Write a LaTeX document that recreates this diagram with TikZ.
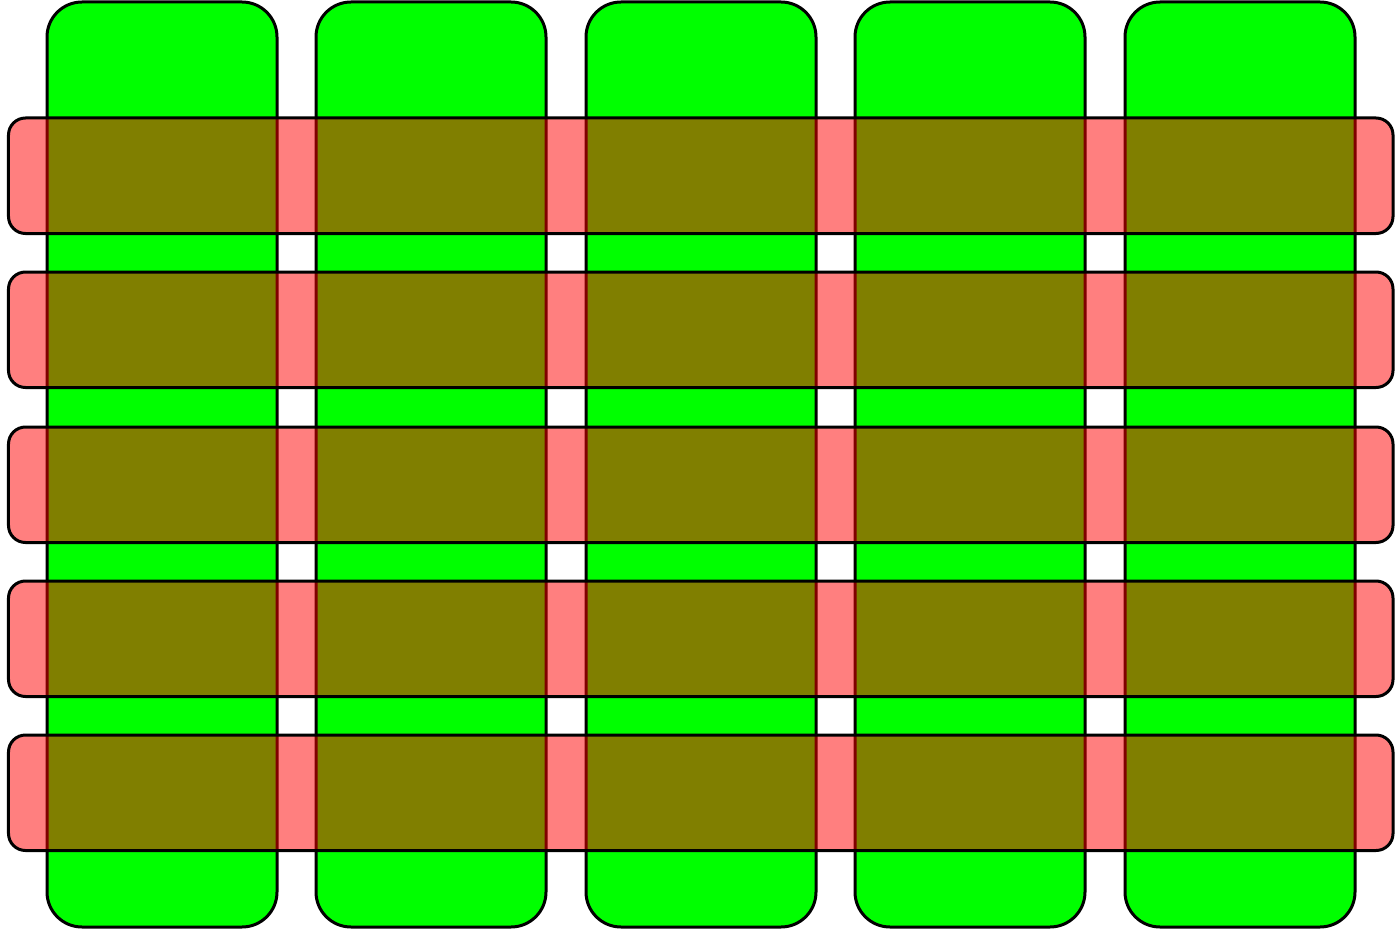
\documentclass[tikz,border=0pt]{standalone}
\begin{document}
\begin{tikzpicture}[
  colbox/.style={draw=black, fill=green, line width=0.06cm, rounded corners=0.7cm,
    minimum width=4.6cm, minimum height=18.5cm, inner sep=0pt},
  rowbox/.style={draw=black, fill=red, fill opacity=0.5, draw opacity=1, line width=0.06cm,
    rounded corners=0.34cm, minimum width=27.69cm, minimum height=2.31cm, inner sep=0pt}]

  \useasboundingbox (0,0) rectangle (27.94,-18.62);

  \node[colbox] (c1) at (3.24,-9.29) {};
  \node[colbox] (c2) at (8.62,-9.29) {};
  \node[colbox] (c3) at (14.02,-9.29) {};
  \node[colbox] (c4) at (19.40,-9.29) {};
  \node[colbox] (c5) at (24.80,-9.29) {};

  \node[rowbox] (r1) at (14.015,-3.515) {};
  \node[rowbox] (r2) at (14.015,-6.595) {};
  \node[rowbox] (r3) at (14.015,-9.695) {};
  \node[rowbox] (r4) at (14.015,-12.775) {};
  \node[rowbox] (r5) at (14.015,-15.855) {};

\end{tikzpicture}
\end{document}
